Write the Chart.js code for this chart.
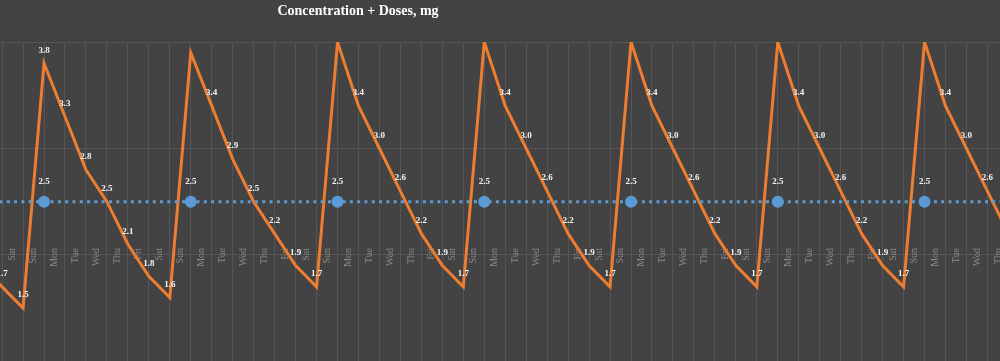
<!DOCTYPE html>
<html lang="en">
<head>
  <meta charset="UTF-8" />
  <title>Concentration + Doses</title>
  <script src="https://cdn.jsdelivr.net/npm/chart.js"></script>
  <style>
    html, body { margin: 0; padding: 0; background: #434343; overflow: hidden; }
    canvas { display: block; }
  </style>
</head>
<body>
  <canvas id="concChart" width="1000" height="363"></canvas>

  <script>
    const titleText = 'Concentration + Doses, mg';
    const weekdays = ['Mon', 'Tue', 'Wed', 'Thu', 'Fri', 'Sat', 'Sun'];

    // day 0 = first dose (Monday); values are read once a day at midnight
    const concStartDay = -3;
    const concentration = [
      1.9, 1.7, 1.5,
      3.8, 3.3, 2.8, 2.5, 2.1, 1.8, 1.6,
      3.9, 3.4, 2.9, 2.5, 2.2, 1.9, 1.7,
      4.0, 3.4, 3.0, 2.6, 2.2, 1.9, 1.7,
      4.0, 3.4, 3.0, 2.6, 2.2, 1.9, 1.7,
      4.0, 3.4, 3.0, 2.6, 2.2, 1.9, 1.7,
      4.0, 3.4, 3.0, 2.6, 2.2, 1.9, 1.7,
      4.0, 3.4, 3.0, 2.6, 2.2
    ];

    const doseDays = [-7, 0, 7, 14, 21, 28, 35, 42, 49];
    const doseAmount = [2.5, 2.5, 2.5, 2.5, 2.5, 2.5, 2.5, 2.5, 2.5];

    // visible window, in days
    const dayMin = -2.1;
    const dayMax = 45.6;

    const gridDays = [];
    for (let d = -2; d <= 45; d++) gridDays.push(d);
    const labelDays = [];
    for (let d = -3; d <= 45; d++) labelDays.push(d);

    function dayName(d) {
      return weekdays[((d % 7) + 7) % 7];
    }

    // value labels above points, hidden when they'd poke out of the plot
    const valueLabels = {
      id: 'valueLabels',
      afterDatasetsDraw(chart) {
        const { ctx, chartArea } = chart;
        ctx.save();
        ctx.font = 'bold 9px "Liberation Serif"';
        ctx.fillStyle = '#f4f4f4';
        ctx.textAlign = 'center';
        ctx.textBaseline = 'middle';
        chart.data.datasets.forEach((ds, i) => {
          const meta = chart.getDatasetMeta(i);
          meta.data.forEach((pt, j) => {
            const y = pt.y - ds.labelOffset;
            if (y - 5 < chartArea.top || pt.x < chartArea.left - 20 || pt.x > chartArea.right + 20) return;
            ctx.fillText(ds.data[j].y.toFixed(1), pt.x, y);
          });
        });
        ctx.restore();
      }
    };

    const drawTitle = {
      id: 'drawTitle',
      afterDraw(chart) {
        const ctx = chart.ctx;
        ctx.save();
        ctx.font = 'bold 14px "Liberation Serif"';
        ctx.fillStyle = '#ffffff';
        ctx.textAlign = 'center';
        ctx.textBaseline = 'middle';
        ctx.fillText(titleText, chart.chartArea.left + 358, 11);
        ctx.restore();
      }
    };

    const canvas = document.getElementById('concChart');
    const chart = new Chart(canvas.getContext('2d'), {
      type: 'line',
      data: {
        datasets: [
          {
            label: 'Doses',
            data: doseDays.map((d, i) => ({ x: d, y: doseAmount[i] })),
            borderColor: '#5b9bd5',
            backgroundColor: '#5b9bd5',
            borderWidth: 3,
            borderDash: [3, 4.3],
            pointRadius: 6,
            pointBorderWidth: 0,
            pointBackgroundColor: '#5b9bd5',
            labelOffset: 20
          },
          {
            label: 'Concentration',
            data: concentration.map((v, i) => ({ x: concStartDay + i, y: v })),
            borderColor: '#ed7d31',
            borderWidth: 3,
            pointRadius: 0,
            tension: 0,
            labelOffset: 13
          }
        ]
      },
      options: {
        responsive: false,
        devicePixelRatio: 1,
        animation: false,
        layout: { padding: { top: 42, left: 0, right: 0, bottom: 0 } },
        plugins: {
          legend: { display: false },
          title: { display: false },
          tooltip: { enabled: false }
        },
        scales: {
          x: {
            type: 'linear',
            position: { y: 1 },
            min: dayMin,
            max: dayMax,
            afterBuildTicks: s => { s.ticks = gridDays.map(v => ({ value: v })); },
            ticks: { display: false },
            grid: { color: '#555555', drawTicks: false },
            border: { display: false }
          },
          xd: {
            type: 'linear',
            axis: 'x',
            position: { y: 2 },
            min: dayMin,
            max: dayMax,
            afterBuildTicks: s => { s.ticks = labelDays.map(v => ({ value: v + 0.5 })); },
            ticks: {
              autoSkip: false,
              minRotation: 90,
              maxRotation: 90,
              padding: -7,
              color: '#8a8a8a',
              font: { family: 'Liberation Serif', size: 10 },
              callback: v => dayName(Math.floor(v))
            },
            grid: { display: false, drawTicks: false },
            border: { display: false }
          },
          y: {
            type: 'linear',
            position: { x: 0 },
            min: 1,
            max: 4,
            ticks: { display: false, stepSize: 1 },
            grid: { color: '#555555', drawTicks: false },
            border: { display: false }
          }
        }
      },
      plugins: [valueLabels, drawTitle]
    });

    // the plot is cropped by the window on the left, right and bottom:
    // grow the canvas until the plot spans 1000px wide and reaches y = 363
    let w = 1000, h = 363, padL = 0;
    for (let k = 0; k < 4; k++) {
      const area = chart.chartArea;
      padL = Math.round(area.left);
      w += Math.round(padL + 1000 - area.right);
      h += Math.round(363 - area.bottom);
      chart.resize(w, h);
    }
    canvas.style.marginLeft = (-Math.round(chart.chartArea.left)) + 'px';
  </script>
</body>
</html>
